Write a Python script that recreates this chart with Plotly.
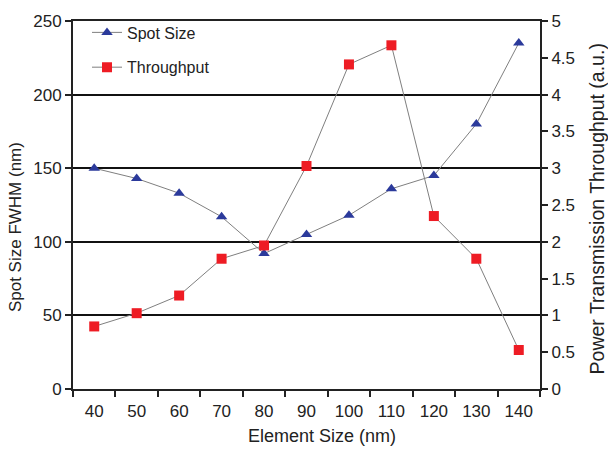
import plotly.graph_objects as go

element_size = ["40", "50", "60", "70", "80", "90", "100", "110", "120", "130", "140"]
spot_size = [150, 143, 133, 117, 92, 105, 118, 136, 145, 180, 235]
throughput = [0.85, 1.03, 1.27, 1.77, 1.95, 3.03, 4.41, 4.67, 2.35, 1.77, 0.53]

font = "Liberation Sans, Arial, sans-serif"

# plot area in pixels: left 73, right 540, top 14, bottom 389
L, R, T, B = 73, 540, 14, 389
W, H = R - L, B - T

def px(x):
    return (x - L) / W

def py(y):
    return (B - y) / H

fig = go.Figure()
fig.add_trace(go.Scatter(
    x=element_size, y=spot_size, name="Spot Size", mode="lines+markers",
    line=dict(color="#7f7f7f", width=1),
    marker=dict(symbol="triangle-up", size=10, color="#2B3A9B"),
    legendgroup="a", yaxis="y"))
fig.add_trace(go.Scatter(
    x=element_size, y=throughput, name="Throughput", mode="lines+markers",
    line=dict(color="#7f7f7f", width=1),
    marker=dict(symbol="square", size=10, color="#EE1C24"),
    legendgroup="b", yaxis="y2"))

fig.update_layout(
    width=608, height=451,
    margin=dict(l=L, r=608 - R, t=T, b=451 - B),
    paper_bgcolor="white", plot_bgcolor="white",
    font=dict(family=font, size=17, color="#222"),
    showlegend=True,
    legend=dict(x=0.03, y=1.015, xanchor="left", yanchor="top",
                bgcolor="rgba(0,0,0,0)", font=dict(size=16),
                tracegroupgap=11),
    xaxis=dict(type="category", range=[-0.5, 10.5], tickson="boundaries",
               ticks="outside", ticklen=6, tickwidth=2, tickcolor="#222",
               showline=True, linecolor="#222", linewidth=2, showgrid=False,
               mirror=True, ticklabelstandoff=6),
    yaxis=dict(range=[0, 250], dtick=50, ticks="outside", ticklen=6, tickwidth=2,
               tickcolor="#222", showline=True, linecolor="#222", linewidth=2,
               showgrid=True, gridcolor="#111", gridwidth=2, zeroline=False),
    yaxis2=dict(range=[0, 5], dtick=0.5, overlaying="y", side="right",
                ticks="outside", ticklen=6, tickwidth=2, tickcolor="#222",
                showline=True, linecolor="#222", linewidth=2, showgrid=False,
                zeroline=False),
    annotations=[
        dict(text="Element Size (nm)", xref="paper", yref="paper",
             x=px(322), y=py(437), showarrow=False, font=dict(size=18),
             xanchor="center", yanchor="middle"),
        dict(text="Spot Size FWHM (nm)", xref="paper", yref="paper",
             x=px(15), y=py(224), showarrow=False, font=dict(size=17),
             textangle=-90, xanchor="center", yanchor="middle"),
        dict(text="Power Transmission Throughput (a.u.)", xref="paper", yref="paper",
             x=px(597), y=py(206), showarrow=False, font=dict(size=19.5),
             textangle=-90, xanchor="center", yanchor="middle"),
    ],
)

fig.write_html("out.html")
